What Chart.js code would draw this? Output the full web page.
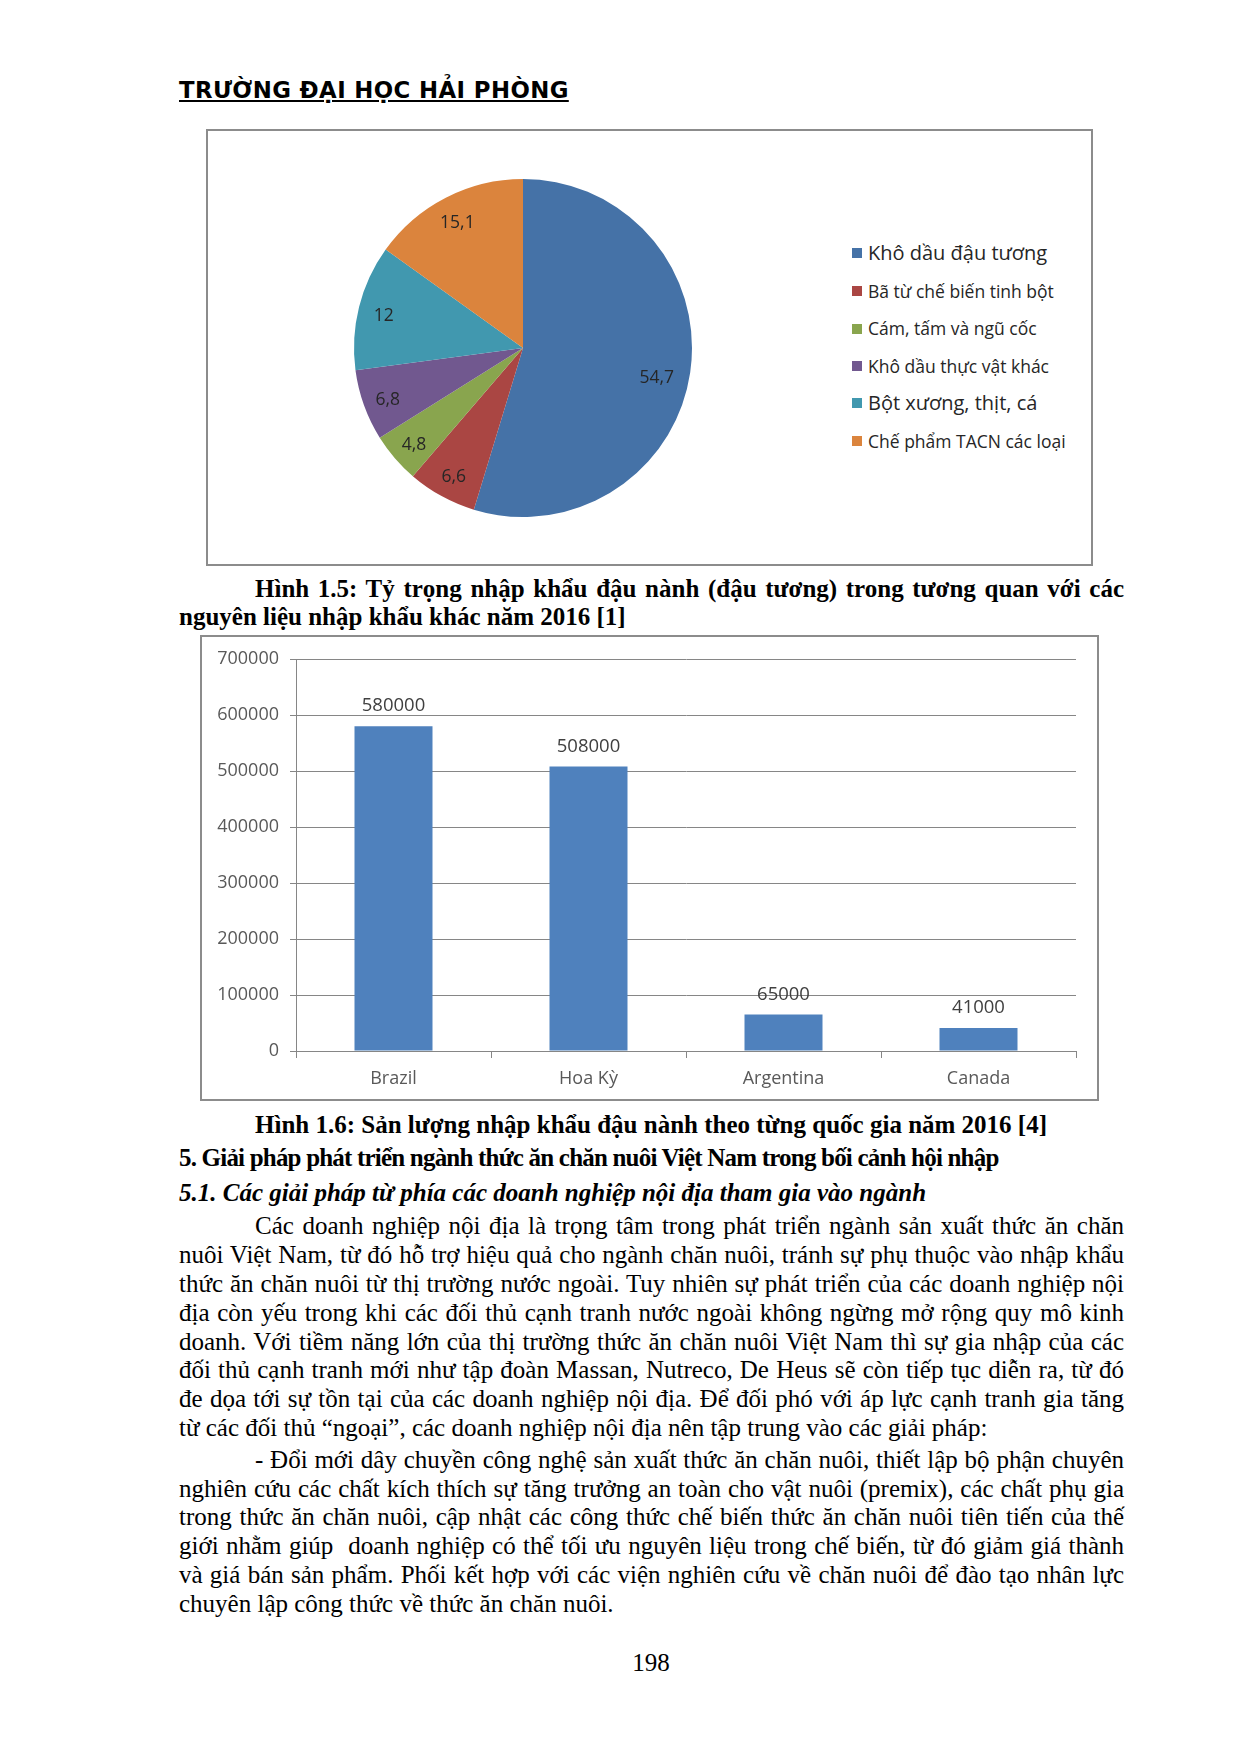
<!DOCTYPE html>
<html lang="vi">
<head>
<meta charset="utf-8">
<title>Hình 1.5 - Hình 1.6</title>
<script src="https://cdn.jsdelivr.net/npm/chart.js@4.4.1/dist/chart.umd.min.js"></script>
<style>
  body { margin: 0; background: #fff; }
  #page { position: relative; width: 1240px; height: 1754px; font-family: "Liberation Serif", "Times New Roman", serif; color: #000; overflow: hidden; }
  #header { position: absolute; left: 179px; top: 77px; font-family: "DejaVu Sans", sans-serif; font-weight: bold; font-size: 22.8px; text-decoration: underline; letter-spacing: 0.4px; }
  .box { position: absolute; border: 2px solid #8c8c8c; box-sizing: border-box; background: #fff; }
  #pieBox { left: 206px; top: 129px; width: 887px; height: 437px; }
  #barBox { left: 200px; top: 635px; width: 899px; height: 466px; }
  .box canvas { position: absolute; left: 0; top: 0; }
  #legend { position: absolute; left: 644px; top: 0; font-family: "Open Sans", sans-serif; color: #262626; }
  #legend div { position: absolute; white-space: nowrap; }
  #legend span { display: inline-block; width: 10px; height: 10px; margin-right: 6px; vertical-align: middle; position: relative; top: -2px; }
  .ln { position: absolute; left: 179px; width: 945px; font-size: 25px; line-height: 29px; white-space: nowrap; }
  .j { text-align: justify; text-align-last: justify; }
  .ind { left: 255px; width: 869px; }
  .b { font-weight: bold; }
  .bi { font-weight: bold; font-style: italic; }
</style>
</head>
<body>
<div id="page">
  <div id="header">TRƯỜNG ĐẠI HỌC HẢI PHÒNG</div>

  <div class="box" id="pieBox">
    <canvas id="pieChart" width="630" height="434"></canvas>
    <div id="legend"></div>
  </div>

  <div class="ln ind j b" style="top:574px">Hình 1.5: Tỷ trọng nhập khẩu đậu nành (đậu tương) trong tương quan với các</div>
  <div class="ln b" style="top:602px">nguyên liệu nhập khẩu khác năm 2016 [1]</div>

  <div class="box" id="barBox">
    <canvas id="barChart" width="895" height="462"></canvas>
  </div>

  <div class="ln ind b" style="top:1110px">Hình 1.6: Sản lượng nhập khẩu đậu nành theo từng quốc gia năm 2016 [4]</div>
  <div class="ln b" style="top:1143px;letter-spacing:-0.8px">5. Giải pháp phát triển ngành thức ăn chăn nuôi Việt Nam trong bối cảnh hội nhập</div>
  <div class="ln bi" style="top:1178px">5.1. Các giải pháp từ phía các doanh nghiệp nội địa tham gia vào ngành</div>

  <div class="ln ind j" style="top:1211px">Các doanh nghiệp nội địa là trọng tâm trong phát triển ngành sản xuất thức ăn chăn</div>
  <div class="ln j" style="top:1240px">nuôi Việt Nam, từ đó hỗ trợ hiệu quả cho ngành chăn nuôi, tránh sự phụ thuộc vào nhập khẩu</div>
  <div class="ln j" style="top:1269px">thức ăn chăn nuôi từ thị trường nước ngoài. Tuy nhiên sự phát triển của các doanh nghiệp nội</div>
  <div class="ln j" style="top:1298px">địa còn yếu trong khi các đối thủ cạnh tranh nước ngoài không ngừng mở rộng quy mô kinh</div>
  <div class="ln j" style="top:1327px">doanh. Với tiềm năng lớn của thị trường thức ăn chăn nuôi Việt Nam thì sự gia nhập của các</div>
  <div class="ln j" style="top:1355px">đối thủ cạnh tranh mới như tập đoàn Massan, Nutreco, De Heus sẽ còn tiếp tục diễn ra, từ đó</div>
  <div class="ln j" style="top:1384px">đe dọa tới sự tồn tại của các doanh nghiệp nội địa. Để đối phó với áp lực cạnh tranh gia tăng</div>
  <div class="ln" style="top:1413px">từ các đối thủ “ngoại”, các doanh nghiệp nội địa nên tập trung vào các giải pháp:</div>

  <div class="ln ind j" style="top:1445px">- Đổi mới dây chuyền công nghệ sản xuất thức ăn chăn nuôi, thiết lập bộ phận chuyên</div>
  <div class="ln j" style="top:1474px">nghiên cứu các chất kích thích sự tăng trưởng an toàn cho vật nuôi (premix), các chất phụ gia</div>
  <div class="ln j" style="top:1502px">trong thức ăn chăn nuôi, cập nhật các công thức chế biến thức ăn chăn nuôi tiên tiến của thế</div>
  <div class="ln j" style="top:1531px">giới nhằm giúp&nbsp; doanh nghiệp có thể tối ưu nguyên liệu trong chế biến, từ đó giảm giá thành</div>
  <div class="ln j" style="top:1560px">và giá bán sản phẩm. Phối kết hợp với các viện nghiên cứu về chăn nuôi để đào tạo nhân lực</div>
  <div class="ln" style="top:1589px">chuyên lập công thức về thức ăn chăn nuôi.</div>

  <div style="position:absolute;left:0;width:1302px;top:1648px;text-align:center;font-size:25px;line-height:30px;">198</div>
</div>

<script>
// Hình 1.5 - tỷ trọng (%)
const pieLabels = ['Khô dầu đậu tương', 'Bã từ chế biến tinh bột', 'Cám, tấm và ngũ cốc', 'Khô dầu thực vật khác', 'Bột xương, thịt, cá', 'Chế phẩm TACN các loại'];
const pieValues = [54.7, 6.6, 4.8, 6.8, 12, 15.1];
const pieColors = ['#4572A7', '#AA4643', '#89A54E', '#71588F', '#4198AF', '#DB843D'];
const legendSizes = [20, 17.5, 17.5, 17.5, 20, 17.5];

// Hình 1.6 - sản lượng nhập khẩu
const countries = ['Brazil', 'Hoa Kỳ', 'Argentina', 'Canada'];
const imports = [580000, 508000, 65000, 41000];
const yTicks = [0, 100000, 200000, 300000, 400000, 500000, 600000, 700000];

const chartFont = '"Open Sans", sans-serif';

// Legend bên phải biểu đồ tròn
const legend = document.getElementById('legend');
pieLabels.forEach((label, i) => {
  const row = document.createElement('div');
  row.style.top = (122 - 14 + i * 37.6) + 'px';
  row.style.fontSize = legendSizes[i] + 'px';
  row.style.lineHeight = '28px';
  row.innerHTML = `<span style="background:${pieColors[i]}"></span>${label}`;
  legend.appendChild(row);
});

// Nhãn giá trị trong từng miếng
const pieLabelPlugin = {
  id: 'pieLabels',
  afterDatasetsDraw(chart) {
    const ctx = chart.ctx;
    const meta = chart.getDatasetMeta(0);
    ctx.save();
    ctx.font = '17.5px ' + chartFont;
    ctx.fillStyle = '#262626';
    ctx.textAlign = 'center';
    ctx.textBaseline = 'middle';
    meta.data.forEach((arc, i) => {
      const p = arc.getProps(['x', 'y', 'startAngle', 'endAngle', 'outerRadius']);
      const a = (p.startAngle + p.endAngle) / 2;
      const r = p.outerRadius * (i === 0 ? 0.8 : 0.85);
      ctx.fillText(String(pieValues[i]).replace('.', ','), p.x + Math.cos(a) * r, p.y + Math.sin(a) * r + (i === 0 ? 10 : 3));
    });
    ctx.restore();
  }
};

new Chart(document.getElementById('pieChart'), {
  type: 'pie',
  data: {
    labels: pieLabels,
    datasets: [{ data: pieValues, backgroundColor: pieColors, borderWidth: 0 }]
  },
  options: {
    responsive: false,
    animation: false,
    radius: 169,
    plugins: { legend: { display: false }, tooltip: { enabled: false } }
  },
  plugins: [pieLabelPlugin]
});

// Nhãn số trên đầu cột
const barLabelPlugin = {
  id: 'barLabels',
  afterDatasetsDraw(chart) {
    const ctx = chart.ctx;
    const meta = chart.getDatasetMeta(0);
    ctx.save();
    ctx.font = '18.5px ' + chartFont;
    ctx.fillStyle = '#404040';
    ctx.textAlign = 'center';
    ctx.textBaseline = 'middle';
    meta.data.forEach((bar, i) => {
      ctx.fillText(String(imports[i]), bar.x, bar.y - 20);
    });
    ctx.restore();
  }
};

new Chart(document.getElementById('barChart'), {
  type: 'bar',
  data: {
    labels: countries,
    datasets: [{ data: imports, backgroundColor: '#4F81BD', barPercentage: 0.4, categoryPercentage: 1 }]
  },
  options: {
    responsive: false,
    animation: false,
    layout: { padding: { top: 22, right: 21, bottom: 0, left: 0 } },
    plugins: { legend: { display: false }, tooltip: { enabled: false } },
    scales: {
      x: {
        grid: { display: true, offset: true, drawOnChartArea: false, tickLength: 7, color: '#868686' },
        border: { color: '#868686' },
        ticks: { color: '#595959', font: { family: chartFont, size: 18 }, padding: 10 },
        afterFit(s) { s.height = 48; }
      },
      y: {
        min: yTicks[0],
        max: yTicks[yTicks.length - 1],
        grid: { color: '#868686', tickLength: 6 },
        border: { color: '#868686' },
        ticks: { stepSize: yTicks[1] - yTicks[0], color: '#595959', font: { family: chartFont, size: 18 }, padding: 11, callback: v => String(v) },
        afterFit(s) { s.width = 94; }
      }
    }
  },
  plugins: [barLabelPlugin]
});
</script>
</body>
</html>
